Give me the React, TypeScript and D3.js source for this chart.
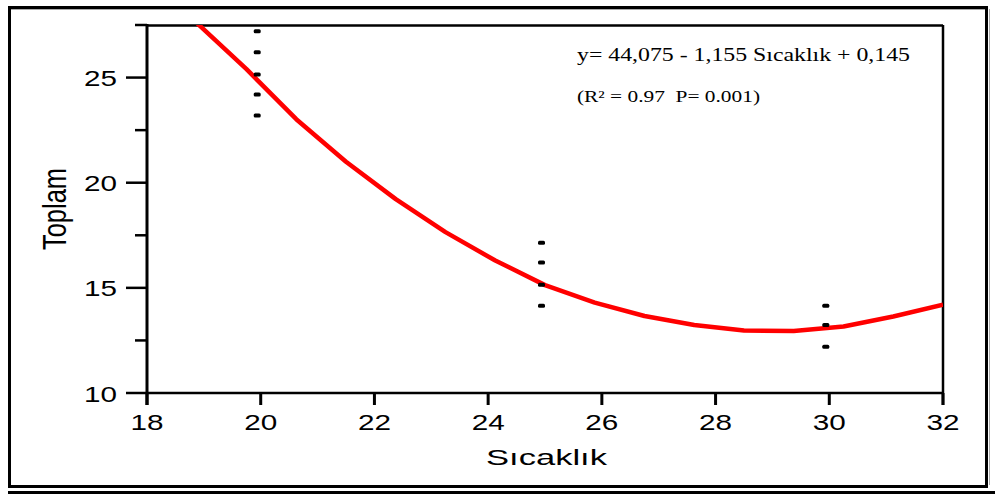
import React from "react";
import * as d3 from "d3";

// Observed totals per temperature
const tempGroups = [20, 25, 30];
const totals20 = [27.2, 26.2, 25.15, 24.2, 23.2];
const totals25 = [17.15, 16.2, 15.15, 14.15];
const totals30 = [14.15, 13.23, 12.2];

// Fitted curve vertices (temperature, predicted total)
const fitTemp = [18.875, 19.75, 20.625, 21.5, 22.375, 23.25, 24.125, 25, 25.875, 26.75, 27.625, 28.5, 29.375, 30.25, 31.125, 32];
const fitTotal = [27.6, 25.4, 23.02, 21.0, 19.22, 17.65, 16.3, 15.13, 14.3, 13.66, 13.23, 12.97, 12.95, 13.16, 13.64, 14.2];

const xTicks = [18, 20, 22, 24, 26, 28, 30, 32];
const yMajor = [10, 15, 20, 25];
const yMinor = [12.5, 17.5, 22.5, 27.5];

const equationText = "y= 44,075 - 1,155 Sıcaklık + 0,145";
const statsText = "(R² = 0.97\u00A0\u00A0P= 0.001)";
const xTitle = "Sıcaklık";
const yTitle = "Toplam";

export default function App() {
  const W = 995;
  const H = 494;
  const left = 147;
  const right = 943;
  const top = 25;
  const bottom = 393;

  const x = d3.scaleLinear().domain([18, 32]).range([left, right]);
  const y = d3.scaleLinear().domain([10, 27.5]).range([bottom, top]);

  const line = d3
    .line<number>()
    .x((_, i) => x(fitTemp[i]))
    .y((d) => y(d));

  const groups = [totals20, totals25, totals30];
  const sans = "'Liberation Sans', Arial, sans-serif";
  const serif = "'Liberation Serif', 'Times New Roman', serif";

  return (
    <svg
      width={W}
      height={H}
      style={{ position: "absolute", left: 0, top: 0, background: "#fff" }}
    >
      <defs>
        <clipPath id="plotClip">
          <rect x={left} y={top} width={right - left} height={bottom - top} />
        </clipPath>
      </defs>

      {/* outer frame */}
      <g stroke="#000" strokeWidth={3}>
        <line x1={8} x2={988} y1={7.5} y2={7.5} />
        <line x1={9.5} x2={9.5} y1={6} y2={488} />
        <line x1={986.5} x2={986.5} y1={6} y2={488} />
        <line x1={8} x2={988} y1={486.5} y2={486.5} />
        <line x1={8} x2={995} y1={492.5} y2={492.5} />
      </g>
      <g stroke="#aaa" strokeWidth={1}>
        <line x1={11} x2={985} y1={9.5} y2={9.5} />
        <line x1={989.5} x2={989.5} y1={9} y2={485} />
      </g>

      {/* plot box */}
      <g stroke="#000" fill="none">
        <line x1={left} x2={right} y1={top + 0.5} y2={top + 0.5} strokeWidth={2.5} />
        <line x1={right} x2={right} y1={top} y2={bottom + 12} strokeWidth={2.5} />
        <line x1={left} x2={left} y1={top - 1} y2={bottom + 12} strokeWidth={3} />
        <line x1={left} x2={right} y1={bottom} y2={bottom} strokeWidth={2.5} />
      </g>

      {/* x ticks */}
      {xTicks.map((t) => (
        <g key={"xt" + t}>
          <line x1={x(t)} x2={x(t)} y1={bottom} y2={bottom + 12} stroke="#000" strokeWidth={3} />
          <text
            x={x(t) - 16.5}
            y={430}
            fontFamily={sans}
            fontSize={21.5}
            textLength={33}
            lengthAdjust="spacingAndGlyphs"
          >
            {t}
          </text>
        </g>
      ))}

      {/* y ticks */}
      {yMajor.map((t) => (
        <g key={"yt" + t}>
          <line x1={left - 21} x2={left} y1={y(t)} y2={y(t)} stroke="#000" strokeWidth={2.5} />
          <text
            x={84}
            y={y(t) + 8.5}
            fontFamily={sans}
            fontSize={22}
            textLength={33}
            lengthAdjust="spacingAndGlyphs"
          >
            {t}
          </text>
        </g>
      ))}
      {yMinor.map((t) => (
        <line key={"ym" + t} x1={left - 12} x2={left} y1={y(t)} y2={y(t)} stroke="#000" strokeWidth={2.5} />
      ))}

      {/* axis titles */}
      <text
        x={486}
        y={465}
        fontFamily={sans}
        fontSize={22}
        textLength={121}
        lengthAdjust="spacingAndGlyphs"
      >
        {xTitle}
      </text>
      <text
        transform="translate(66,250) rotate(-90)"
        fontFamily={sans}
        fontSize={34}
        textLength={82}
        lengthAdjust="spacingAndGlyphs"
      >
        {yTitle}
      </text>

      {/* fitted curve */}
      <path
        d={line(fitTotal) || ""}
        fill="none"
        stroke="#ff0000"
        strokeWidth={4.5}
        strokeLinejoin="round"
        clipPath="url(#plotClip)"
      />

      {/* observations */}
      {groups.map((vals, gi) =>
        vals.map((v, i) => (
          <rect
            key={`p${gi}-${i}`}
            x={x(tempGroups[gi]) - 7}
            y={y(v) - 2}
            width={7}
            height={4}
            rx={1.5}
            fill="#000"
          />
        ))
      )}

      {/* regression annotation */}
      <text
        x={577}
        y={61}
        fontFamily={serif}
        fontSize={19}
        textLength={333}
        lengthAdjust="spacingAndGlyphs"
      >
        {equationText}
      </text>
      <text
        x={577}
        y={102}
        fontFamily={serif}
        fontSize={16}
        textLength={183}
        lengthAdjust="spacingAndGlyphs"
      >
        {statsText}
      </text>
    </svg>
  );
}
